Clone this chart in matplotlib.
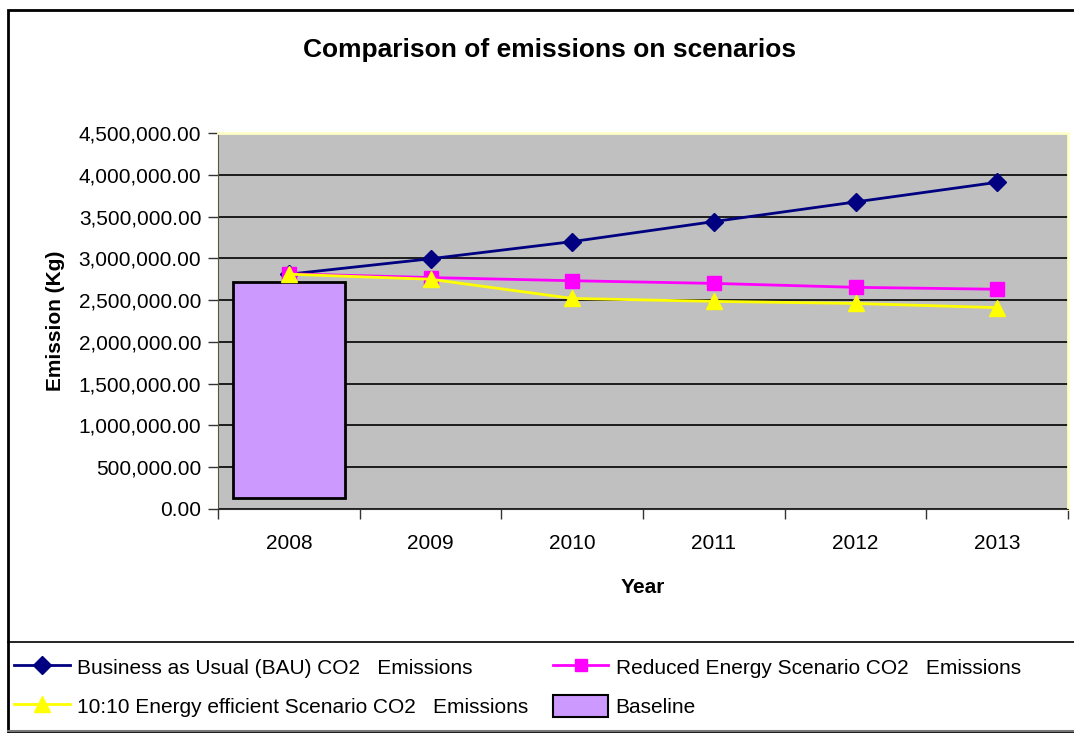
import matplotlib
matplotlib.use("Agg")
import matplotlib.pyplot as plt
from matplotlib.lines import Line2D
from matplotlib.patches import Patch, Rectangle
from matplotlib.ticker import FuncFormatter, FixedLocator, NullFormatter

plt.rcParams['font.family'] = ['Liberation Sans', 'DejaVu Sans']

years = ['2008', '2009', '2010', '2011', '2012', '2013']
bau = [2810000, 2995000, 3200000, 3440000, 3675000, 3910000]
reduced = [2815000, 2770000, 2732000, 2700000, 2653000, 2630000]
efficient = [2810000, 2750000, 2520000, 2485000, 2460000, 2410000]
baseline_bottom = 135000
baseline_top = 2720000

W, H = 1074, 733
fig = plt.figure(figsize=(W / 100, H / 100), dpi=100)
fig.patch.set_facecolor('white')

# plot area in pixel coordinates
left, right, top, bottom = 218, 1068, 133, 509
ax = fig.add_axes([left / W, 1 - bottom / H, (right - left) / W, (bottom - top) / H])
ax.set_facecolor('#C0C0C0')

x = list(range(len(years)))
ax.bar(0, baseline_top - baseline_bottom, bottom=baseline_bottom, width=0.79,
       color='#CC99FF', edgecolor='black', linewidth=2, zorder=2)

ax.plot(x, bau, color='#000080', marker='D', markersize=9, linewidth=2, zorder=3, clip_on=False)
ax.plot(x, reduced, color='#FF00FF', marker='s', markersize=10, linewidth=2, zorder=3, clip_on=False)
ax.plot(x, efficient, color='#FFFF00', marker='^', markersize=11, linewidth=2, zorder=4, clip_on=False)

ax.set_xlim(-0.5, 5.5)
ax.set_ylim(0, 4500000)
ax.set_yticks([i * 500000 for i in range(10)])
ax.yaxis.set_major_formatter(FuncFormatter(lambda v, p: f"{v:,.2f}"))
ax.grid(axis='y', color='black', linewidth=1.2, zorder=1)
ax.set_axisbelow(True)

ax.set_xticks(x)
ax.set_xticklabels(years)
ax.xaxis.set_minor_locator(FixedLocator([i - 0.5 for i in range(7)]))
ax.xaxis.set_minor_formatter(NullFormatter())
ax.tick_params(axis='x', which='major', length=0, pad=18, labelsize=15)
ax.tick_params(axis='x', which='minor', length=7, width=1, color='#333333')
ax.tick_params(axis='y', length=7, width=1, color='#333333', labelsize=15, pad=5)

for s in ('top', 'right'):
    ax.spines[s].set_color('#FFFFC8')
    ax.spines[s].set_linewidth(2)
ax.spines['left'].set_color('#555544')
ax.spines['bottom'].set_color('#333333')

ax.set_xlabel('Year', fontsize=15, fontweight='bold', labelpad=18)
ax.set_ylabel('Emission (Kg)', fontsize=15, fontweight='bold', labelpad=10)

fig.text(550 / W, 1 - 50 / H, 'Comparison of emissions on scenarios', ha='center', va='center',
         fontsize=19, fontweight='bold')

# outer frame and legend box
fig.add_artist(Rectangle((8 / W, 0), 1.2, 1 - 10 / H, transform=fig.transFigure,
                         fill=False, edgecolor='black', linewidth=2))
fig.add_artist(Line2D([8 / W, 1], [1 - 642 / H, 1 - 642 / H], transform=fig.transFigure,
                      color='black', linewidth=1.2))
fig.add_artist(Line2D([8 / W, 1], [1 - 731 / H, 1 - 731 / H], transform=fig.transFigure,
                      color='#777777', linewidth=1.5))

handles = [
    Line2D([], [], color='#000080', marker='D', markersize=9, linewidth=2),
    Line2D([], [], color='#FFFF00', marker='^', markersize=11, linewidth=2),
    Line2D([], [], color='#FF00FF', marker='s', markersize=9, linewidth=2),
    Patch(facecolor='#CC99FF', edgecolor='black', linewidth=1.5),
]
labels = [
    'Business as Usual (BAU) CO2   Emissions',
    '10:10 Energy efficient Scenario CO2   Emissions',
    'Reduced Energy Scenario CO2   Emissions',
    'Baseline',
]
fig.legend(handles, labels, loc='upper left', bbox_to_anchor=(6 / W, 1 - 647 / H), ncol=2,
           frameon=False, fontsize=15, handlelength=2.65, handleheight=1.3, handletextpad=0.35,
           columnspacing=1.2, labelspacing=0.8, borderaxespad=0)

fig.savefig('out.png', dpi=100)
